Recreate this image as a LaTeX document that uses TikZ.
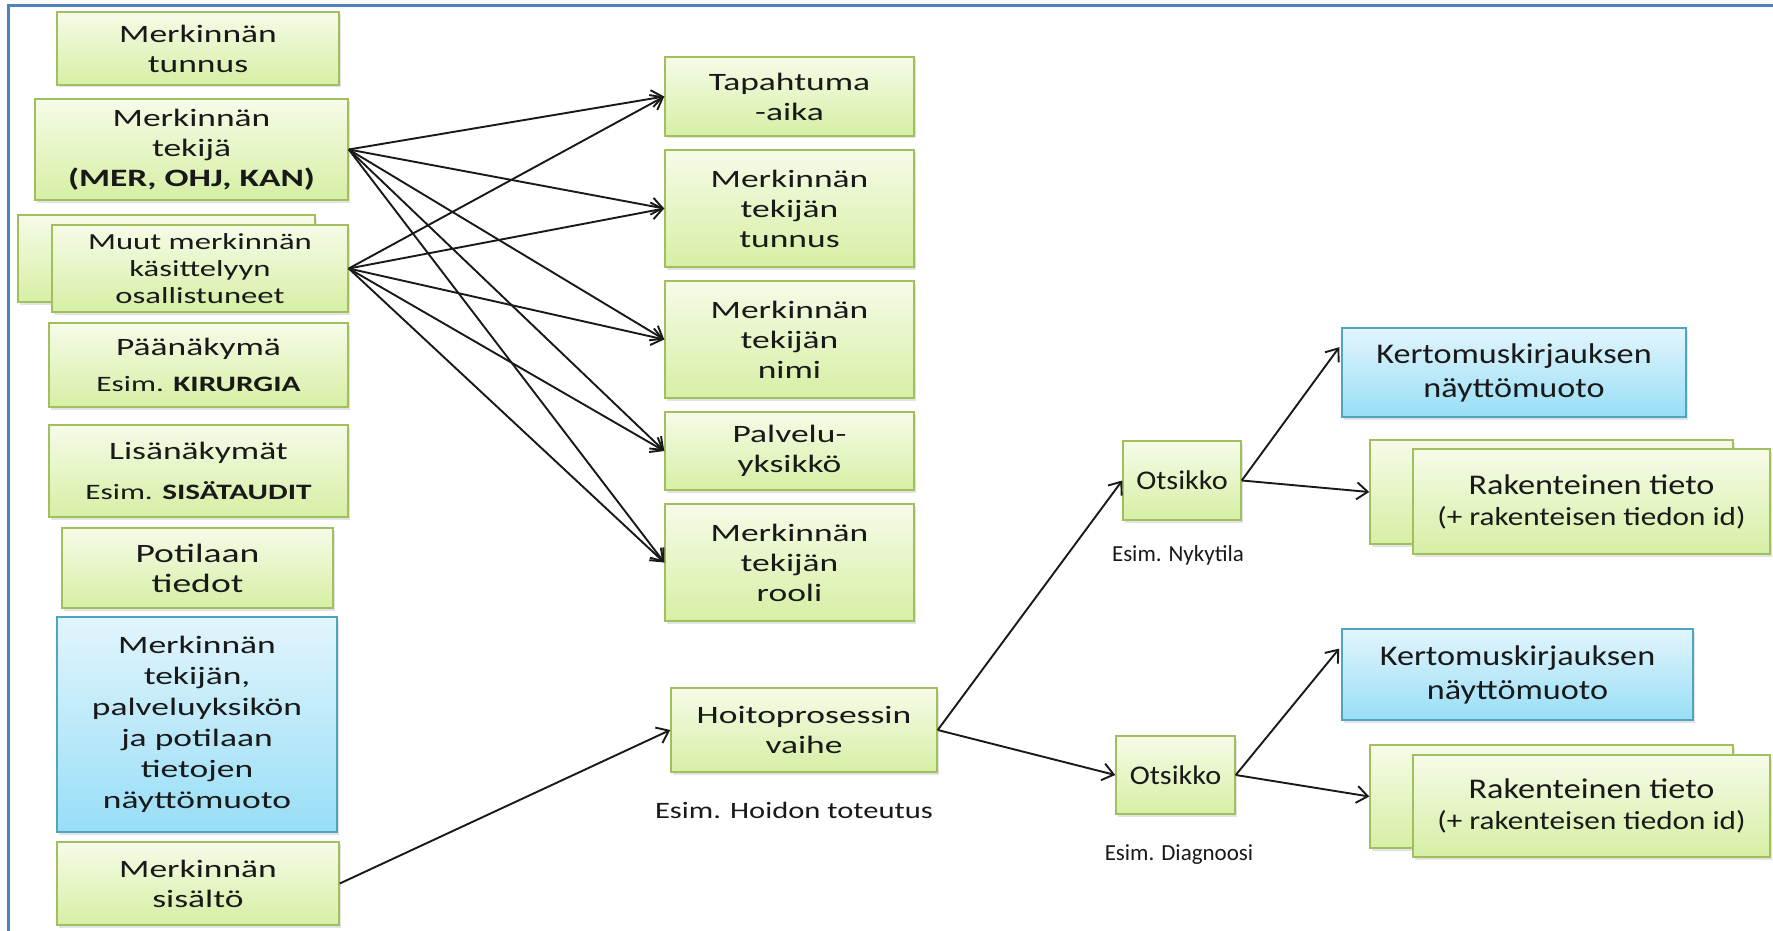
\documentclass[tikz,border=0pt]{standalone}
\usepackage{fontspec}
\setmainfont{Carlito}
\newfontfamily\fA{Carlito}[FakeStretch=1.42]
\newfontfamily\fB{Carlito}[FakeStretch=1.3]
\newfontfamily\fC{Carlito}[FakeStretch=1.2]
\newfontfamily\fD{Carlito}[FakeStretch=1.12]
\usetikzlibrary{arrows.meta,shadows,calc}

\definecolor{gtop}{RGB}{246,251,232}
\definecolor{gbot}{RGB}{214,239,164}
\definecolor{gline}{RGB}{160,192,96}
\definecolor{btop}{RGB}{226,245,253}
\definecolor{bbot}{RGB}{152,222,246}
\definecolor{bline}{RGB}{78,165,192}
\definecolor{framecol}{RGB}{79,129,189}
\definecolor{ink}{RGB}{25,25,25}

\tikzset{
  box/.style={line width=1.5pt, align=center, inner sep=0pt, text=ink,
    drop shadow={shadow xshift=2pt, shadow yshift=-2.5pt, opacity=0.22}},
  gbox/.style={box, draw=gline, top color=gtop, bottom color=gbot},
  bbox/.style={box, draw=bline, top color=btop, bottom color=bbot},
  lft/.style={font=\fA\fontsize{25}{30}\selectfont},
  rgt/.style={font=\fC\fontsize{28.5}{34}\selectfont},
  lbl/.style={inner sep=0pt, text=ink},
  link/.style={line width=1.9pt, draw=ink, -{Straight Barb[length=11pt,width=17pt]}},
}

\begin{document}
\begin{tikzpicture}[x=1pt, y=-1pt]
\useasboundingbox (0,0) rectangle (1773,931);
\fill[white] (0,0) rectangle (1773,931);
% outer frame, open to the right and bottom
\draw[framecol, line width=3pt] (8,940) -- (8,6) -- (1785,6);

% left column
\node[gbox, lft, minimum width=282pt, minimum height=73pt] (tunnus) at (198,48.5) {Merkinnän\\tunnus};
\node[gbox, lft, minimum width=313pt, minimum height=101pt] (tekija) at (191.5,149.5)
  {Merkinnän\\tekijä\\\textbf{(MER, OHJ, KAN)}};
\node[gbox, minimum width=297pt, minimum height=87pt] (muutb) at (166.5,258.5) {};
\node[gbox, font=\fA\fontsize{23}{27}\selectfont, minimum width=296pt, minimum height=87pt] (muut) at (200,268.5)
  {Muut merkinnän\\käsittelyyn\\osallistuneet};
\node[gbox, lft, minimum width=299pt, minimum height=84pt] (paa) at (198.5,365)
  {Päänäkymä\\[6pt]{\fontsize{22}{26}\selectfont Esim. \textbf{KIRURGIA}}};
\node[gbox, lft, minimum width=299pt, minimum height=92pt] (lisa) at (198.5,471)
  {Lisänäkymät\\[10pt]{\fontsize{22}{26}\selectfont Esim. \textbf{SISÄTAUDIT}}};
\node[gbox, font=\fA\fontsize{26.5}{30}\selectfont, minimum width=271pt, minimum height=80pt] (potilas) at (197.5,568)
  {Potilaan\\tiedot};
\node[bbox, font=\fA\fontsize{25}{31}\selectfont, minimum width=280pt, minimum height=215pt] (nayttoL) at (197,724.5)
  {Merkinnän\\tekijän,\\palveluyksikön\\ja potilaan\\tietojen\\näyttömuoto};
\node[gbox, lft, minimum width=282pt, minimum height=83pt] (sisalto) at (198,883.5) {Merkinnän\\sisältö};

% middle column
\node[gbox, lft, minimum width=249pt, minimum height=79pt] (aika) at (789.5,96.5) {Tapahtuma\\-aika};
\node[gbox, lft, minimum width=249pt, minimum height=117pt] (tektun) at (789.5,208.5) {Merkinnän\\tekijän\\tunnus};
\node[gbox, lft, minimum width=249pt, minimum height=117pt] (teknimi) at (789.5,339.5) {Merkinnän\\tekijän\\nimi};
\node[gbox, lft, minimum width=249pt, minimum height=78pt] (palvelu) at (789.5,451) {Palvelu-\\yksikkö};
\node[gbox, lft, minimum width=249pt, minimum height=117pt] (rooli) at (789.5,562.5) {Merkinnän\\tekijän\\rooli};

\node[gbox, font=\fA\fontsize{25}{30}\selectfont, minimum width=266pt, minimum height=84pt] (hoito) at (804,730)
  {Hoitoprosessin\\vaihe};
\node[lbl, font=\fB\fontsize{23.5}{28}\selectfont] (hoitoex) at (794,810) {Esim. Hoidon toteutus};

% right part
\node[gbox, font=\fD\fontsize{27}{34}\selectfont, minimum width=118pt, minimum height=79pt] (ots1) at (1182,480.5) {Otsikko};
\node[lbl, font=\fontsize{23}{27}\selectfont] (ots1ex) at (1178,555) {Esim. Nykytila};
\node[gbox, font=\fD\fontsize{27}{34}\selectfont, minimum width=119pt, minimum height=78pt] (ots2) at (1175.5,775) {Otsikko};
\node[lbl, font=\fontsize{23}{27}\selectfont] (ots2ex) at (1179,855) {Esim. Diagnoosi};

\node[bbox, rgt, minimum width=344pt, minimum height=89pt] (kert1) at (1514,372.5) {Kertomuskirjauksen\\näyttömuoto};
\node[gbox, minimum width=363pt, minimum height=104pt] (rak1b) at (1551.5,492) {};
\node[gbox, rgt, minimum width=357pt, minimum height=105pt] (rak1) at (1591.5,501.5)
  {Rakenteinen tieto\\[-3pt]{\fontsize{26}{30}\selectfont (+ rakenteisen tiedon id)}};

\node[bbox, rgt, minimum width=351pt, minimum height=91pt] (kert2) at (1517.5,674.5) {Kertomuskirjauksen\\näyttömuoto};
\node[gbox, minimum width=363pt, minimum height=103pt] (rak2b) at (1551.5,796.5) {};
\node[gbox, rgt, minimum width=357pt, minimum height=102pt] (rak2) at (1591.5,806)
  {Rakenteinen tieto\\[-3pt]{\fontsize{26}{30}\selectfont (+ rakenteisen tiedon id)}};

% connectors
\foreach \t in {aika,tektun,teknimi,palvelu,rooli}{
  \draw[link] (tekija.east) -- (\t.west);
  \draw[link] (muut.east) -- (\t.west);
}
\draw[link] (sisalto.east) -- (hoito.west);
\draw[link] (hoito.east) -- (ots1.west);
\draw[link] (hoito.east) -- (ots2.west);
\draw[link] (ots1.east) -- ($(kert1.north west)!0.22!(kert1.south west)+(-2,0)$);
\draw[link] (ots1.east) -- (rak1b.west);
\draw[link] (ots2.east) -- ($(kert2.north west)!0.22!(kert2.south west)+(-2,0)$);
\draw[link] (ots2.east) -- (rak2b.west);
\end{tikzpicture}
\end{document}
